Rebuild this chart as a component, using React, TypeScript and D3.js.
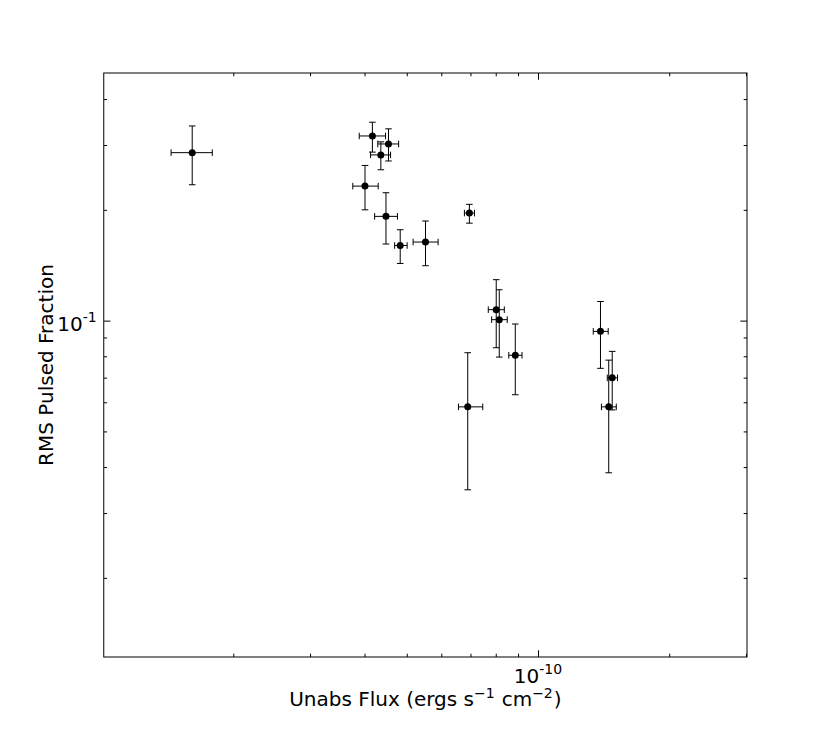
import React, { useRef, useEffect } from "react"
import * as d3 from "d3"

// unabsorbed flux (erg s^-1 cm^-2) with its error range
const flux = [1.61e-11, 4.17e-11, 4.54e-11, 4.36e-11, 4.01e-11, 4.48e-11, 4.83e-11, 5.52e-11,
  6.96e-11, 8.02e-11, 8.15e-11, 8.87e-11, 6.90e-11, 1.391e-10, 1.480e-10, 1.453e-10]
const fluxLo = [1.44e-11, 3.89e-11, 4.29e-11, 4.13e-11, 3.76e-11, 4.22e-11, 4.69e-11, 5.17e-11,
  6.78e-11, 7.69e-11, 7.83e-11, 8.57e-11, 6.57e-11, 1.339e-10, 1.442e-10, 1.398e-10]
const fluxHi = [1.79e-11, 4.47e-11, 4.79e-11, 4.59e-11, 4.30e-11, 4.76e-11, 5.01e-11, 5.90e-11,
  7.15e-11, 8.37e-11, 8.50e-11, 9.19e-11, 7.47e-11, 1.449e-10, 1.522e-10, 1.512e-10]

// rms pulsed fraction with its error range
const pulsed = [0.286, 0.3175, 0.302, 0.282, 0.232, 0.192, 0.160, 0.1635,
  0.196, 0.1071, 0.1006, 0.0805, 0.0583, 0.0935, 0.0699, 0.0583]
const pulsedLo = [0.234, 0.287, 0.2715, 0.257, 0.200, 0.1615, 0.143, 0.141,
  0.184, 0.0844, 0.0796, 0.0629, 0.0347, 0.0742, 0.0572, 0.0386]
const pulsedHi = [0.338, 0.346, 0.332, 0.306, 0.264, 0.2226, 0.1766, 0.1865,
  0.207, 0.1292, 0.1213, 0.0979, 0.0818, 0.1127, 0.0825, 0.0781]

const xDomain = [1.009e-11, 3.016e-10]
const yDomain = [0.01219, 0.4708]

const xTitle = "Unabs Flux (ergs s"
const yTitle = "RMS Pulsed Fraction"

export default function App() {
  const svgRef = useRef<SVGSVGElement>(null)

  useEffect(() => {
    const width = 830, height = 730
    const left = 103.75, right = 747, top = 73, bottom = 657
    const font = "DejaVu Sans, sans-serif"
    const fs = 20

    const svg = d3.select(svgRef.current)
    svg.selectAll("*").remove()
    svg.append("rect").attr("width", width).attr("height", height).attr("fill", "#fff")

    const x = d3.scaleLog().domain(xDomain).range([left, right])
    const y = d3.scaleLog().domain(yDomain).range([bottom, top])

    const isMajor = (v: number) => Math.abs(Math.log10(v) - Math.round(Math.log10(v))) < 1e-6
    const xt = x.ticks(), yt = y.ticks()
    const xMajor = xt.filter(isMajor), xMinor = xt.filter(v => !isMajor(v))
    const yMajor = yt.filter(isMajor), yMinor = yt.filter(v => !isMajor(v))

    const tickAxis = (axis: any, vals: number[], size: number, tr: string) => {
      const g = svg.append("g").attr("transform", tr)
        .call(axis.tickValues(vals).tickSizeInner(size).tickSizeOuter(0).tickFormat(() => ""))
      g.select(".domain").remove()
      g.selectAll("line").attr("stroke", "#000").attr("stroke-width", 1)
    }
    // ticks point inward on all four sides
    tickAxis(d3.axisBottom(x), xMinor, -3.3, `translate(0,${bottom})`)
    tickAxis(d3.axisBottom(x), xMajor, -6.7, `translate(0,${bottom})`)
    tickAxis(d3.axisTop(x), xMinor, -3.3, `translate(0,${top})`)
    tickAxis(d3.axisTop(x), xMajor, -6.7, `translate(0,${top})`)
    tickAxis(d3.axisLeft(y), yMinor, -3.3, `translate(${left},0)`)
    tickAxis(d3.axisLeft(y), yMajor, -6.7, `translate(${left},0)`)
    tickAxis(d3.axisRight(y), yMinor, -3.3, `translate(${right},0)`)
    tickAxis(d3.axisRight(y), yMajor, -6.7, `translate(${right},0)`)

    // error bars
    const cap = 3.3
    const eb = svg.append("g").attr("stroke", "#000").attr("stroke-width", 1).attr("fill", "none")
    flux.forEach((f, i) => {
      const cx = x(f), cy = y(pulsed[i])
      const x0 = x(fluxLo[i]), x1 = x(fluxHi[i])
      const y0 = y(pulsedLo[i]), y1 = y(pulsedHi[i])
      eb.append("line").attr("x1", cx).attr("x2", cx).attr("y1", y0).attr("y2", y1)
      eb.append("line").attr("x1", x0).attr("x2", x1).attr("y1", cy).attr("y2", cy)
      eb.append("line").attr("x1", cx - cap).attr("x2", cx + cap).attr("y1", y0).attr("y2", y0)
      eb.append("line").attr("x1", cx - cap).attr("x2", cx + cap).attr("y1", y1).attr("y2", y1)
      eb.append("line").attr("x1", x0).attr("x2", x0).attr("y1", cy - cap).attr("y2", cy + cap)
      eb.append("line").attr("x1", x1).attr("x2", x1).attr("y1", cy - cap).attr("y2", cy + cap)
    })

    svg.append("g").selectAll("circle")
      .data(flux)
      .enter().append("circle")
      .attr("cx", d => x(d))
      .attr("cy", (d, i) => y(pulsed[i]))
      .attr("r", 3.5)
      .attr("fill", "#000")

    // frame
    svg.append("rect")
      .attr("x", left).attr("y", top)
      .attr("width", right - left).attr("height", bottom - top)
      .attr("fill", "none").attr("stroke", "#000").attr("stroke-width", 1)

    const sup = (t: any, s: string, up: number) => {
      t.append("tspan").attr("dy", -up).attr("font-size", fs * 0.7).text(s)
    }

    // tick labels
    yMajor.forEach(v => {
      const t = svg.append("text")
        .attr("x", left - 7).attr("y", y(v) + 10)
        .attr("text-anchor", "end").attr("font-family", font).attr("font-size", fs)
      t.append("tspan").text("10")
      sup(t, String(Math.round(Math.log10(v))).replace("\u2212", "-"), 8.5)
    })
    xMajor.forEach(v => {
      const t = svg.append("text")
        .attr("x", x(v)).attr("y", bottom + 25.7)
        .attr("text-anchor", "middle").attr("font-family", font).attr("font-size", fs)
      t.append("tspan").text("10")
      sup(t, String(Math.round(Math.log10(v))).replace("\u2212", "-"), 8.5)
    })

    // axis titles
    const xl = svg.append("text")
      .attr("x", (left + right) / 2).attr("y", 706)
      .attr("text-anchor", "middle").attr("font-family", font).attr("font-size", fs)
    xl.append("tspan").text(xTitle)
    xl.append("tspan").attr("dy", -8).attr("font-size", fs * 0.7).text("\u22121")
    xl.append("tspan").attr("dy", 8).attr("dx", 7).text("cm")
    xl.append("tspan").attr("dy", -8).attr("font-size", fs * 0.7).text("\u22122")
    xl.append("tspan").attr("dy", 8).attr("dx", 1).text(")")

    svg.append("text")
      .attr("transform", `translate(53,${(top + bottom) / 2}) rotate(-90)`)
      .attr("text-anchor", "middle").attr("font-family", font).attr("font-size", fs)
      .text(yTitle)
  }, [])

  return (
    <svg ref={svgRef} width={830} height={730}
      style={{ position: "absolute", left: 0, top: 0 }}></svg>
  )
}
